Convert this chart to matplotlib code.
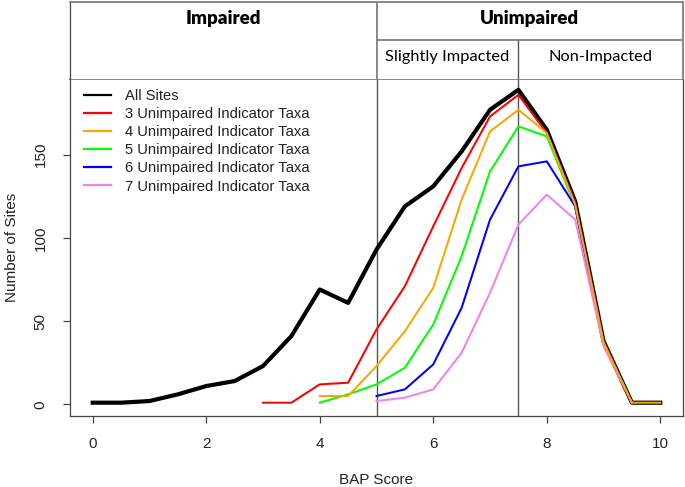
import numpy as np
import matplotlib
matplotlib.use("Agg")
import matplotlib.pyplot as plt
from matplotlib.lines import Line2D

nan = np.nan
bap = [0, 0.5, 1, 1.5, 2, 2.5, 3, 3.5, 4, 4.5, 5, 5.5, 6, 6.5, 7, 7.5, 8, 8.5, 9, 9.5, 10]
all_sites = [1, 1, 2, 6, 11, 14, 23, 41, 69, 61, 93, 119, 131, 152, 177, 189, 165, 122, 38, 1, 1]
taxa3 = [nan, nan, nan, nan, nan, nan, 1, 1, 12, 13, 45, 71, 107, 142, 173, 186, 163, 121, 38, 1, nan]
taxa4 = [nan, nan, nan, nan, nan, nan, nan, nan, 5, 5, 23, 44, 70, 123, 164, 177, 163, 120, 37, 1, 1]
taxa5 = [nan, nan, nan, nan, nan, nan, nan, nan, 1, 6, 12, 22, 48, 89, 140, 167, 161, 119, 37, 1, nan]
taxa6 = [nan, nan, nan, nan, nan, nan, nan, nan, nan, nan, 5, 9, 24, 58, 111, 143, 146, 119, 36, 1, nan]
taxa7 = [nan, nan, nan, nan, nan, nan, nan, nan, nan, nan, 2, 4, 9, 31, 67, 108, 126, 111, 35, 1, nan]

series_labels = ["All Sites", "3 Unimpaired Indicator Taxa", "4 Unimpaired Indicator Taxa",
                 "5 Unimpaired Indicator Taxa", "6 Unimpaired Indicator Taxa",
                 "7 Unimpaired Indicator Taxa"]
series_colors = ["black", "#FF0000", "#FFA500", "#00FF00", "#0000FF", "#EE82EE"]
xticks = [0, 2, 4, 6, 8, 10]
yticks = [0, 50, 100, 150]
cut_impaired = 5
cut_slight = 7.5
header_top = ["Impaired", "Unimpaired"]
header_sub = ["Slightly Impacted", "Non-Impacted"]

plt.rcParams['font.family'] = ['Liberation Sans', 'DejaVu Sans']

W, H = 685, 487
fig = plt.figure(figsize=(W / 100, H / 100), dpi=100)

L, R, T, B = 70, 683, 79, 416
ax = fig.add_axes([L / W, 1 - B / H, (R - L) / W, (B - T) / H])
axh = fig.add_axes([L / W, 1 - T / H, (R - L) / W, (T - 1.5) / H])

xlim = (-0.4, 10.4)
ax.set_xlim(*xlim)
ax.set_ylim(-7, 195.5)

spine_c = '#444444'
table_c = '#808080'

ax.axvline(cut_impaired, color='#555555', lw=1.0, zorder=1)
ax.axvline(cut_slight, color='#555555', lw=1.0, zorder=1)

ax.plot(bap, all_sites, color=series_colors[0], lw=3.0, zorder=2)
order = [1, 3, 4, 5, 2]
data = [all_sites, taxa3, taxa4, taxa5, taxa6, taxa7]
for i in order:
    ax.plot(bap, data[i], color=series_colors[i], lw=1.45, zorder=3)

ax.set_xticks(xticks)
ax.set_yticks(yticks)
ax.tick_params(axis='both', direction='out', length=5, width=0.9, color=spine_c,
               labelsize=11, labelcolor='#222222')
ax.tick_params(axis='x', pad=10)
ax.tick_params(axis='y', pad=11)
for lab in ax.get_yticklabels():
    lab.set_rotation(90)
    lab.set_va('center')
for s in ax.spines.values():
    s.set_color(spine_c)
    s.set_linewidth(0.9)
ax.spines['top'].set_color(table_c)
ax.spines['top'].set_linewidth(1.3)

fig.text(12 / W, 1 - 247 / H, "Number of Sites", rotation=90, ha='center', va='center',
         fontsize=11, color='#222222')
fig.text(376 / W, 1 - 480 / H, "BAP Score", ha='center', va='center',
         fontsize=11, color='#222222')

handles = [Line2D([], [], color=c, lw=1.6) for c in series_colors]
leg = ax.legend(handles, series_labels, loc='upper left',
                bbox_to_anchor=(84 / W, 1 - 89 / H), bbox_transform=fig.transFigure,
                frameon=False, borderpad=0, borderaxespad=0, fontsize=10.6,
                handlelength=1.83, handletextpad=0.95, labelspacing=0.28)
for t in leg.get_texts():
    t.set_color('#222222')

# header table
axh.set_xlim(*xlim)
axh.set_ylim(0, 1)
axh.set_xticks([])
axh.set_yticks([])
for s in ['top', 'right']:
    axh.spines[s].set_color(table_c)
    axh.spines[s].set_linewidth(1.3)
axh.spines['left'].set_color(spine_c)
axh.spines['left'].set_linewidth(0.9)
axh.spines['bottom'].set_visible(False)
axh.plot([cut_impaired, cut_impaired], [0, 1], color=table_c, lw=1.3)
axh.plot([cut_slight, cut_slight], [0, 0.5], color='#555555', lw=1.0)
axh.plot([cut_impaired, xlim[1]], [0.5, 0.5], color=table_c, lw=1.3)

hfont = ['Lato', 'DejaVu Sans']
axh.text((xlim[0] + cut_impaired) / 2, 0.78, header_top[0], ha='center', va='center',
         fontsize=13.5, fontweight='heavy', family=hfont)
axh.text((cut_impaired + xlim[1]) / 2, 0.78, header_top[1], ha='center', va='center',
         fontsize=13.5, fontweight='heavy', family=hfont)
axh.text((cut_impaired + cut_slight) / 2, 0.29, header_sub[0], ha='center', va='center',
         fontsize=11.8, family=hfont)
axh.text((cut_slight + xlim[1]) / 2, 0.29, header_sub[1], ha='center', va='center',
         fontsize=11.8, family=hfont)

fig.savefig("out.png", dpi=100)
